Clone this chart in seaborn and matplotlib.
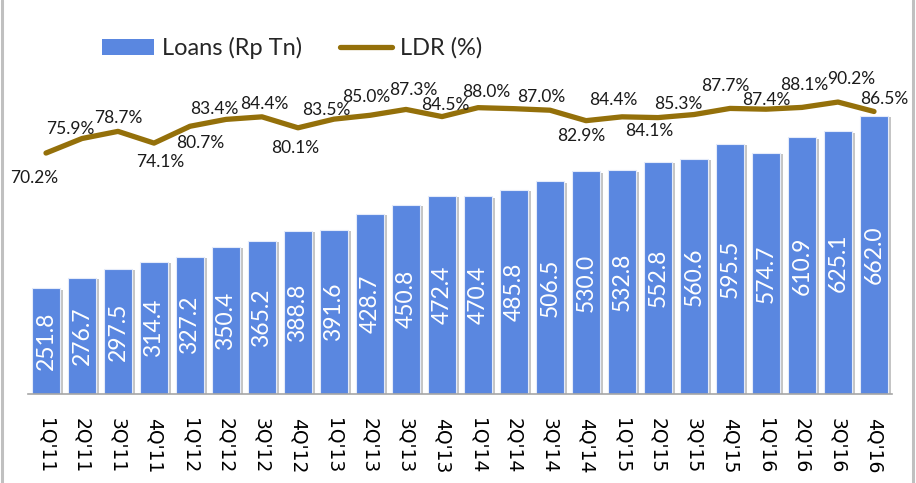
import numpy as np
import pandas as pd
import matplotlib
matplotlib.use("Agg")
import matplotlib.pyplot as plt
import matplotlib.patheffects as pe
from matplotlib.lines import Line2D
from matplotlib.patches import Patch
import seaborn as sns

quarters = ["1Q'11", "2Q'11", "3Q'11", "4Q'11", "1Q'12", "2Q'12", "3Q'12", "4Q'12",
            "1Q'13", "2Q'13", "3Q'13", "4Q'13", "1Q'14", "2Q'14", "3Q'14", "4Q'14",
            "1Q'15", "2Q'15", "3Q'15", "4Q'15", "1Q'16", "2Q'16", "3Q'16", "4Q'16"]
loans = [251.8, 276.7, 297.5, 314.4, 327.2, 350.4, 365.2, 388.8,
         391.6, 428.7, 450.8, 472.4, 470.4, 485.8, 506.5, 530.0,
         532.8, 552.8, 560.6, 595.5, 574.7, 610.9, 625.1, 662.0]
ldr = [70.2, 75.9, 78.7, 74.1, 80.7, 83.4, 84.4, 80.1,
       83.5, 85.0, 87.3, 84.5, 88.0, 87.6, 87.0, 82.9,
       84.4, 84.1, 85.3, 87.7, 87.4, 88.1, 90.2, 86.5]
ldr_labeled = [True] * 24
ldr_labeled[13] = False

# label offsets in pixels (dx, dy), dy positive = up
ldr_offsets = [(-12, -25), (-12, 10), (0, 13), (6, -19), (10, -17), (-12, 10), (2, 13), (-3, -20),
               (-8, 9), (-4, 18), (7, 19), (3, 12), (8, 16), (0, 0), (-9, 13), (-5, -15),
               (-9, 17), (-9, -13), (-16, 11), (-5, 22), (0, 9), (2, 22), (13, 23), (10, 12)]

BAR = "#5a87e0"
LINE = "#94700a"

sns.set_theme(style="white")
plt.rcParams["font.family"] = ["Lato", "DejaVu Sans"]

W, H = 916, 483
fig = plt.figure(figsize=(W / 100, H / 100), dpi=100)
fig.patch.set_facecolor("white")
left, right, bottom, top = 28, 892, 394, 10
ax = fig.add_axes([left / W, 1 - bottom / H, (right - left) / W, (bottom - top) / H])

df = pd.DataFrame({"quarter": quarters, "loans": loans})
sns.barplot(data=df, x="quarter", y="loans", color=BAR, saturation=1, width=0.78,
            edgecolor="#e4ebfa", linewidth=0.8, ax=ax)
for p in ax.patches:
    p.set_path_effects([pe.SimplePatchShadow(offset=(2, -1), shadow_rgbFace="#808080", alpha=0.45),
                        pe.Normal()])

for i, v in enumerate(loans):
    ax.text(i, v / 2, f"{v:.1f}", rotation=90, ha="center", va="center",
            color="white", fontsize=16.5)

ax.set_xlim(-0.5, len(quarters) - 0.5)
ax.set_ylim(0, (bottom - top) / 0.42)
ax.set_yticks([])
ax.set_ylabel("")
ax.set_xlabel("")
for s in ["left", "right", "top"]:
    ax.spines[s].set_visible(False)
ax.spines["bottom"].set_color("#a6a6a6")
ax.spines["bottom"].set_linewidth(1.2)
ax.set_xticks(range(len(quarters)))
ax.set_xticklabels(quarters, rotation=-90, fontsize=13.5, family="DejaVu Sans", color="black")
ax.tick_params(axis="x", which="major", length=0, pad=17)
ax.set_xticks(np.arange(-0.5, len(quarters), 1), minor=True)
ax.tick_params(axis="x", which="minor", length=5, width=1.2, color="#a6a6a6", direction="out")

ax2 = ax.twinx()
xs = np.arange(len(quarters))
sns.lineplot(x=xs, y=ldr, color=LINE, linewidth=3.8, ax=ax2, legend=False)
ax2.set_ylim(-24.3, 126.3)
ax2.set_yticks([])
ax2.set_ylabel("")
for s in ax2.spines.values():
    s.set_visible(False)

for i, (v, lab) in enumerate(zip(ldr, ldr_labeled)):
    if not lab:
        continue
    dx, dy = ldr_offsets[i]
    ax2.annotate(f"{v:.1f}%", (i, v), xytext=(dx, dy), textcoords="offset pixels",
                 ha="center", va="center", fontsize=12.5, color="#1a1a1a")

handles = [Patch(facecolor=BAR, edgecolor="none"),
           Line2D([0], [0], color=LINE, linewidth=3.8)]
fig.legend(handles, ["Loans (Rp Tn)", "LDR (%)"], loc="center", ncol=2,
           bbox_to_anchor=(292 / W, 1 - 48 / H), frameon=False, fontsize=17,
           handlelength=2.2, handleheight=0.65, columnspacing=1.6, handletextpad=0.35)

fig.add_artist(Line2D([2 / W, 2 / W], [0, 1], color="#c0c0c0", linewidth=2.2, transform=fig.transFigure))
fig.add_artist(Line2D([913 / W, 913 / W], [0, 1], color="#c0c0c0", linewidth=2.2, transform=fig.transFigure))

fig.savefig("out.png", dpi=100)
